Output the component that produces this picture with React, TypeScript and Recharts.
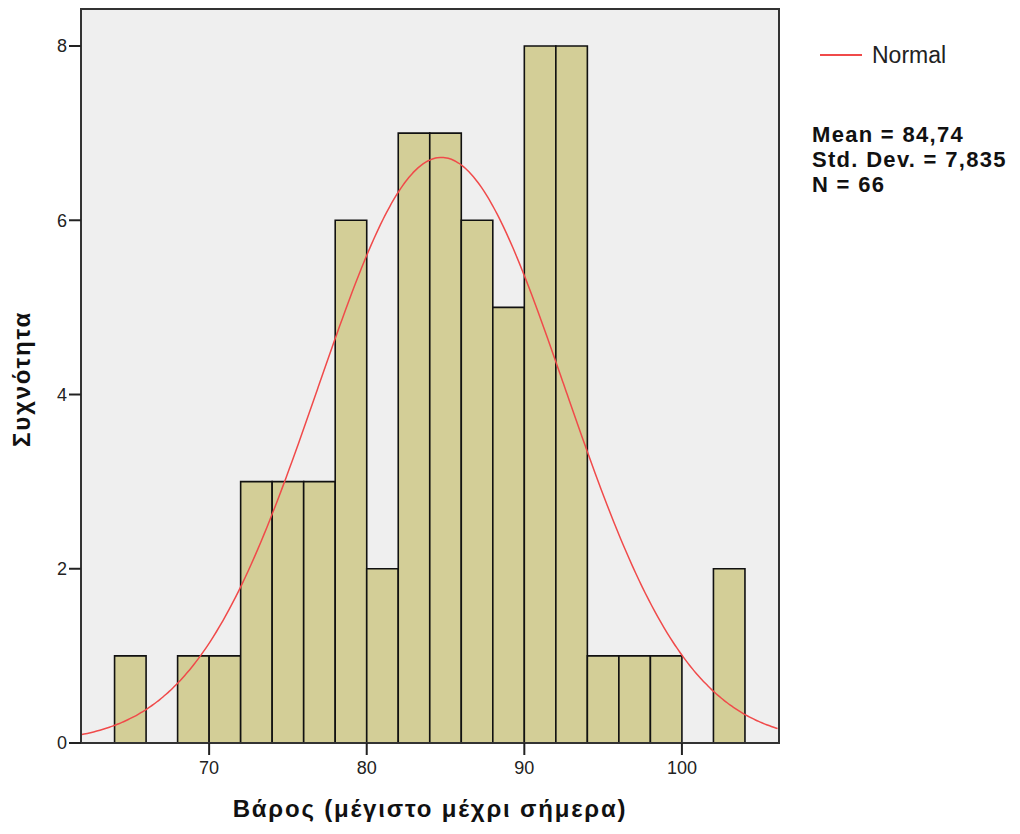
import { ComposedChart, Line, XAxis, YAxis, ReferenceArea } from 'recharts';

// Histogram bins (width 2) and their frequencies
const BIN_STARTS = [64, 66, 68, 70, 72, 74, 76, 78, 80, 82, 84, 86, 88, 90, 92, 94, 96, 98, 100, 102];
const COUNTS = [1, 0, 1, 1, 3, 3, 3, 6, 2, 7, 7, 6, 5, 8, 8, 1, 1, 1, 0, 2];
const BIN_WIDTH = 2;

const X_TICKS = [70, 80, 90, 100];
const Y_TICKS = [0, 2, 4, 6, 8];

const MEAN = 84.74;
const STD_DEV = 7.835;
const N = 66;
const MEAN_LABEL = '84,74';
const STD_LABEL = '7,835';

const X_MIN = 61.87;
const X_MAX = 106.16;
const Y_MAX = 8.425;

const FONT = '"Liberation Sans", Arial, sans-serif';
const BAR_FILL = '#D3CE97';
const PLOT_BG = '#EFEFEF';
const CURVE_COLOR = '#F04A4A';

// fitted normal curve scaled to counts per bin
const curve: { x: number; y: number }[] = [];
for (let x = X_MIN; x <= X_MAX + 1e-9; x += 0.2) {
  const z = (x - MEAN) / STD_DEV;
  const y = ((N * BIN_WIDTH) / (STD_DEV * Math.sqrt(2 * Math.PI))) * Math.exp(-0.5 * z * z);
  curve.push({ x, y });
}

const bins = BIN_STARTS.map((start, i) => ({ x1: start, x2: start + BIN_WIDTH, count: COUNTS[i] })).filter(
  (b) => b.count > 0
);

const YTitle = ({ viewBox }: any) => {
  const x = viewBox.x + 22;
  const y = viewBox.y + viewBox.height / 2 + 3;
  return (
    <text
      x={x}
      y={y}
      transform={`rotate(-90, ${x}, ${y})`}
      textAnchor="middle"
      fontFamily={FONT}
      fontWeight="bold"
      fontSize={24}
      letterSpacing={1.8}
      fill="#111"
    >
      Συχνότητα
    </text>
  );
};

const XTitle = ({ viewBox }: any) => (
  <text
    x={viewBox.x + viewBox.width / 2}
    y={viewBox.y + 74}
    textAnchor="middle"
    fontFamily={FONT}
    fontWeight="bold"
    fontSize={24}
    letterSpacing={1.8}
    fill="#111"
  >
    Βάρος (μέγιστο μέχρι σήμερα)
  </text>
);

export default function App() {
  const tickStyle = { fontFamily: FONT, fontSize: 18, fill: '#222' };
  return (
    <div style={{ position: 'relative', width: 1004, height: 818 }}>
      <ComposedChart
        width={1004}
        height={818}
        data={curve}
        margin={{ top: 1, right: 233, left: 0, bottom: 0 }}
      >
        <XAxis
          dataKey="x"
          type="number"
          domain={[X_MIN, X_MAX]}
          allowDataOverflow
          ticks={X_TICKS}
          tick={tickStyle}
          tickSize={12}
          tickMargin={6}
          height={83}
          axisLine={{ stroke: '#333', strokeWidth: 2 }}
          tickLine={{ stroke: '#222', strokeWidth: 2 }}
          label={<XTitle />}
        />
        <YAxis
          type="number"
          domain={[0, Y_MAX]}
          allowDataOverflow
          ticks={Y_TICKS}
          tick={tickStyle}
          tickSize={12}
          tickMargin={2}
          width={73}
          axisLine={{ stroke: '#333', strokeWidth: 2 }}
          tickLine={{ stroke: '#222', strokeWidth: 2 }}
          label={<YTitle />}
        />
        <ReferenceArea
          x1={X_MIN}
          x2={X_MAX}
          y1={0}
          y2={Y_MAX}
          fill={PLOT_BG}
          fillOpacity={1}
          stroke="#333"
          strokeWidth={2}
        />
        {bins.map((b) => (
          <ReferenceArea
            key={b.x1}
            x1={b.x1}
            x2={b.x2}
            y1={0}
            y2={b.count}
            fill={BAR_FILL}
            fillOpacity={1}
            stroke="#111"
            strokeWidth={1.6}
          />
        ))}
        <Line
          dataKey="y"
          type="monotone"
          stroke={CURVE_COLOR}
          strokeWidth={1.5}
          dot={false}
          activeDot={false}
          isAnimationActive={false}
        />
      </ComposedChart>
      <div style={{ position: 'absolute', left: 804, top: 33, fontFamily: FONT, color: '#111' }}>
        <div style={{ display: 'flex', alignItems: 'center', height: 28 }}>
          <span style={{ display: 'inline-block', width: 42, height: 2, background: CURVE_COLOR, marginLeft: 8, marginRight: 10 }} />
          <span style={{ fontSize: 23, color: '#222' }}>Normal</span>
        </div>
        <div style={{ marginTop: 53, fontWeight: 'bold', fontSize: 22, lineHeight: '25px', letterSpacing: 1.3 }}>
          <div>Mean = {MEAN_LABEL}</div>
          <div>Std. Dev. = {STD_LABEL}</div>
          <div>N = {N}</div>
        </div>
      </div>
    </div>
  );
}
